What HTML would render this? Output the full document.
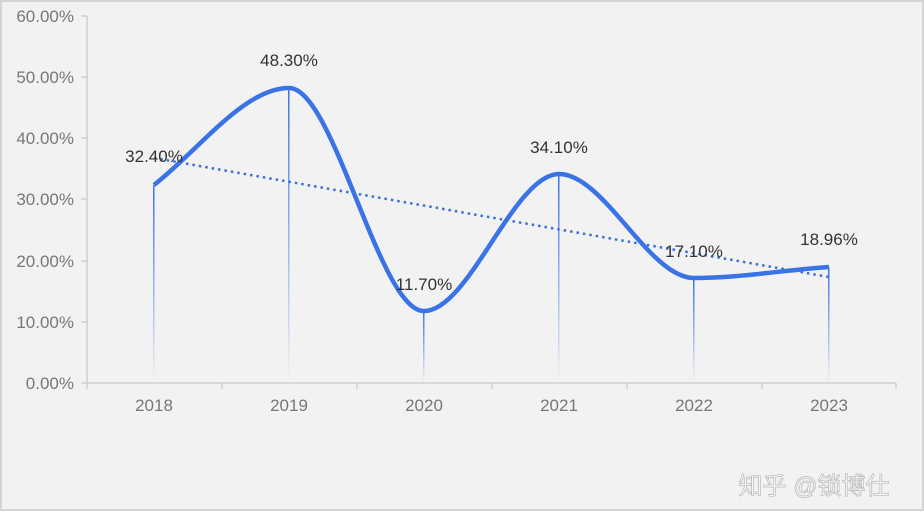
<!DOCTYPE html>
<html><head><meta charset="utf-8"><style>
body{margin:0;background:#fff;width:924px;height:524px;overflow:hidden}
svg{display:block}
text{font-family:"Liberation Sans","Noto Sans CJK SC",sans-serif}
</style></head><body>
<svg width="924" height="524" viewBox="0 0 924 524">
<defs>
<linearGradient id="g" x1="0" y1="0" x2="0" y2="1"><stop offset="0" stop-color="#3a73e6"/><stop offset="1" stop-color="#3a73e6" stop-opacity="0"/></linearGradient>
</defs>
<rect x="1" y="1" width="922" height="509" fill="#f2f2f2" stroke="#d4d4d4" stroke-width="2"/>
<g stroke="#cfcfcf" stroke-width="1.5" fill="none">
<line x1="87" y1="16" x2="87" y2="383"/>
<line x1="87" y1="383" x2="896" y2="383"/>
<line x1="81" y1="16" x2="87" y2="16"/><line x1="81" y1="77" x2="87" y2="77"/><line x1="81" y1="138" x2="87" y2="138"/><line x1="81" y1="199" x2="87" y2="199"/><line x1="81" y1="261" x2="87" y2="261"/><line x1="81" y1="322" x2="87" y2="322"/><line x1="81" y1="383" x2="87" y2="383"/>
<line x1="87" y1="383" x2="87" y2="389"/><line x1="222" y1="383" x2="222" y2="389"/><line x1="357" y1="383" x2="357" y2="389"/><line x1="492" y1="383" x2="492" y2="389"/><line x1="627" y1="383" x2="627" y2="389"/><line x1="762" y1="383" x2="762" y2="389"/><line x1="896" y1="383" x2="896" y2="389"/>
</g>
<g font-size="17" fill="#777" text-anchor="end">
<text x="74" y="22">60.00%</text><text x="74" y="83">50.00%</text><text x="74" y="144">40.00%</text><text x="74" y="205">30.00%</text><text x="74" y="267">20.00%</text><text x="74" y="328">10.00%</text><text x="74" y="389">0.00%</text>
</g>
<g font-size="17" fill="#777" text-anchor="middle">
<text x="154" y="411">2018</text><text x="289" y="411">2019</text><text x="424" y="411">2020</text><text x="559" y="411">2021</text><text x="694" y="411">2022</text><text x="829" y="411">2023</text>
</g>
<g stroke="url(#g)" stroke-width="1.5">
<rect x="153" y="185" width="1.5" height="198" fill="url(#g)" stroke="none"/>
<rect x="288" y="88" width="1.5" height="295" fill="url(#g)" stroke="none"/>
<rect x="423" y="311" width="1.5" height="72" fill="url(#g)" stroke="none"/>
<rect x="558" y="174" width="1.5" height="209" fill="url(#g)" stroke="none"/>
<rect x="693" y="278" width="1.5" height="105" fill="url(#g)" stroke="none"/>
<rect x="828" y="267" width="1.5" height="116" fill="url(#g)" stroke="none"/>
</g>
<line x1="154" y1="158" x2="829" y2="277" stroke="#3a6fdc" stroke-width="2.5" stroke-dasharray="2.5 4"/>
<path d="M154,185 C199,150 244,88 289,88 C334,88 379,311 424,311 C469,311 514,174 559,174 C604,174 649,278 694,278 C739,278 784,270 829,267" fill="none" stroke="#3a73e6" stroke-width="4.5"/>
<g font-size="17" fill="#333" text-anchor="middle">
<text x="154" y="162">32.40%</text><text x="289" y="66">48.30%</text><text x="424" y="290">11.70%</text><text x="559" y="153">34.10%</text><text x="694" y="257">17.10%</text><text x="829" y="245">18.96%</text>
</g>
<text x="814" y="494" font-size="24" fill="#fff" stroke="#bbb" stroke-width="0.8" text-anchor="middle">知乎 @锁博仕</text>
</svg>
</body></html>
